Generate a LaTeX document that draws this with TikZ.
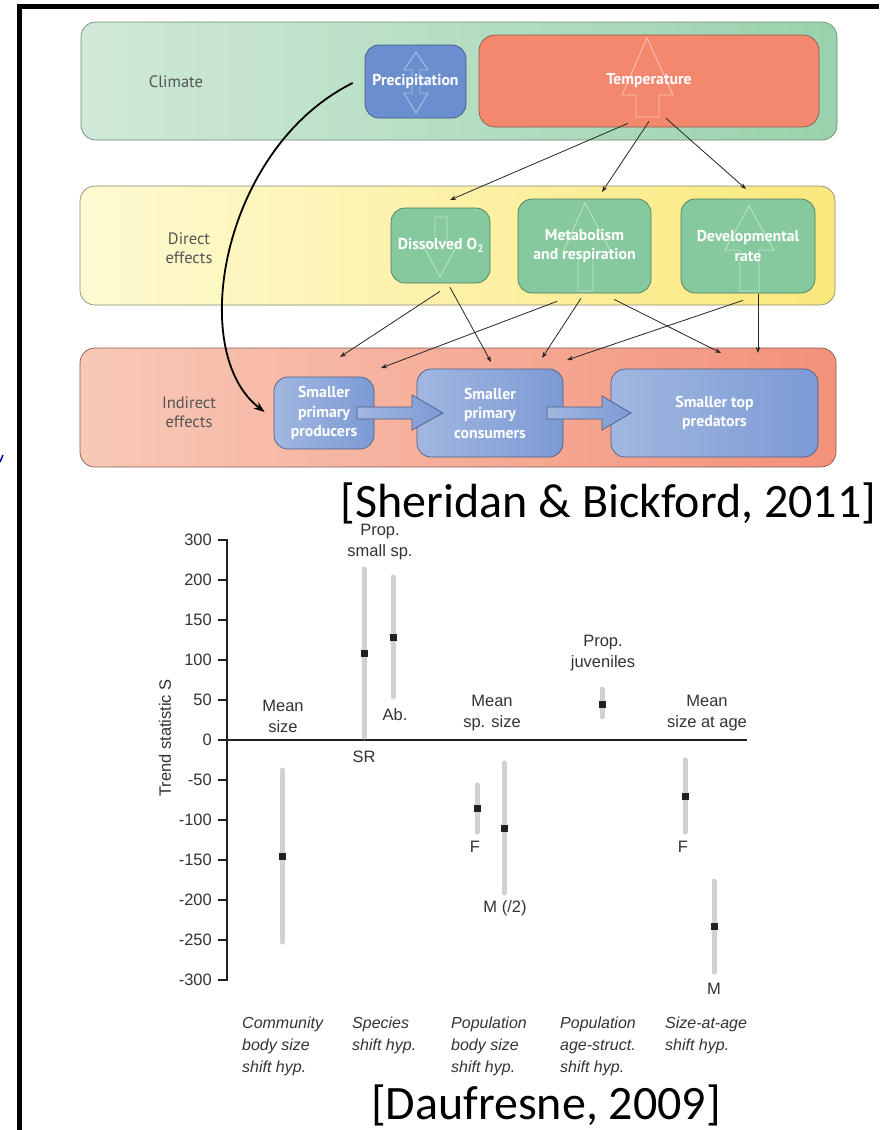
\documentclass[tikz,border=0pt]{standalone}
\usepackage{fontspec}
\setmainfont{Liberation Sans}
\newfontfamily\ptsans{PT Sans}
\newfontfamily\citefont{Carlito}
\usetikzlibrary{arrows.meta,calc}
\definecolor{climL}{HTML}{D0E9D7}
\definecolor{climR}{HTML}{9AD2AD}
\definecolor{climB}{HTML}{6A8A76}
\definecolor{precF}{HTML}{6A8ECE}
\definecolor{precB}{HTML}{3F5A8A}
\definecolor{tempF}{HTML}{F4886F}
\definecolor{tempB}{HTML}{8C5A4E}
\definecolor{dirL}{HTML}{FEFAD2}
\definecolor{dirR}{HTML}{FBE87C}
\definecolor{dirB}{HTML}{8A8A72}
\definecolor{grnF}{HTML}{86C99E}
\definecolor{grnB}{HTML}{4D7A5E}
\definecolor{indL}{HTML}{F8C9B7}
\definecolor{indR}{HTML}{F3917A}
\definecolor{indB}{HTML}{8A5A50}
\definecolor{bluL}{HTML}{A1B7E0}
\definecolor{bluR}{HTML}{7C9AD4}
\definecolor{bluB}{HTML}{4A5F86}
\definecolor{lblgray}{HTML}{555555}
\definecolor{chartink}{HTML}{333333}
\definecolor{axisink}{HTML}{231F20}
\definecolor{barg}{HTML}{CFD1D3}
\begin{document}
\begin{tikzpicture}[x=1pt,y=-1pt,
  band/.style={draw, line width=0.7pt, rounded corners=15pt, inner sep=0pt},
  boxtext/.style={text=white, align=center,
    font=\ptsans\bfseries\fontsize{15.8}{19.5}\selectfont},
  box/.style={draw, line width=0.7pt, rounded corners=14pt, inner sep=0pt, boxtext},
  greenbox/.style={box, fill=grnF, draw=grnB},
  bluebox/.style={box, left color=bluL, right color=bluR, draw=bluB},
  bandlabel/.style={text=lblgray, align=center, inner sep=0pt,
    font=\ptsans\fontsize{16.5}{19}\selectfont},
  ghost/.style={draw=white, draw opacity=0.5, line width=0.8pt, line join=miter},
  link/.style={draw=black!85, line width=0.8pt, -{Stealth[length=6pt,width=4.5pt]}},
  blockarrow/.style={draw=bluB, line width=0.7pt, left color=bluL, right color=bluR},
  axisline/.style={draw=axisink, line width=2.5pt},
  errbar/.style={draw=barg, line width=5pt, line cap=round},
  meanpt/.style={fill=axisink},
  chartlbl/.style={text=chartink, align=center, inner sep=0pt,
    font=\fontsize{16.5}{21}\selectfont},
  ticklbl/.style={text=chartink, anchor=east, inner sep=0pt,
    font=\fontsize{16.5}{20}\selectfont},
  catlbl/.style={text=chartink, align=left, anchor=north west, inner sep=0pt,
    font=\itshape\fontsize{16}{22}\selectfont},
  citelbl/.style={text=black, anchor=base, inner sep=0pt,
    font=\citefont\fontsize{48}{50}\selectfont}
]
\useasboundingbox (0,0) rectangle (879,1130);
\fill[white] (0,0) rectangle (879,1130);
% frame
\draw[black, line width=5pt] (19.5,1130) -- (19.5,6.5) -- (879,6.5);
\draw[blue!70!black, line width=1.5pt] (0,462) -- (3,455);

% bands
\node[band, left color=climL, right color=climR, draw=climB,
  minimum width=756pt, minimum height=118pt] (climate) at (459,81) {};
\node[band, left color=dirL, right color=dirR, draw=dirB,
  minimum width=755pt, minimum height=119pt] (direct) at (457.5,245.5) {};
\node[band, left color=indL, right color=indR, draw=indB,
  minimum width=756pt, minimum height=119pt] (indirect) at (458,407.5) {};

\node[bandlabel] (climlbl) at (176,82) {Climate};
\node[bandlabel] (dirlbl) at (189,248) {Direct\\effects};
\node[bandlabel] (indlbl) at (189,412) {Indirect\\effects};

% climate boxes
\node[box, fill=precF, draw=precB, minimum width=101pt, minimum height=73pt]
  (precip) at (415.5,81.5) {Precipitation};
\node[box, fill=tempF, draw=tempB, rounded corners=16pt,
  minimum width=340pt, minimum height=92pt] (temp) at (649,81) {Temperature};
\path[ghost] (416,52) -- (428,70) -- (420,70) -- (420,93) -- (428,93) -- (416,113)
  -- (404,93) -- (412,93) -- (412,70) -- (404,70) -- cycle;
\path[ghost] (647,38) -- (673,95) -- (659,95) -- (659,117) -- (636,117) -- (636,95)
  -- (622,95) -- cycle;

% direct boxes
\node[greenbox, minimum width=99pt, minimum height=75pt] (diss) at (440.5,245.5)
  {Dissolved O\raisebox{-0.35ex}{\fontsize{10.5}{11}\selectfont 2}};
\node[greenbox, minimum width=133pt, minimum height=94pt] (metab) at (584.5,246)
  {Metabolism\\and respiration};
\node[greenbox, minimum width=134pt, minimum height=94pt] (devel) at (748,246)
  {Developmental\\rate};
\path[ghost] (435,217) -- (447,217) -- (447,245) -- (457,245) -- (440,277) -- (423,245)
  -- (435,245) -- cycle;
\path[ghost] (585,203) -- (611,252) -- (593,252) -- (593,291) -- (578,291) -- (578,252)
  -- (563,252) -- cycle;
\path[ghost] (749,206) -- (774,250) -- (759,250) -- (759,291) -- (740,291) -- (740,250)
  -- (725,250) -- cycle;

% indirect boxes
\node[bluebox, minimum width=100pt, minimum height=72pt] (prod) at (324,413) {};
\node[bluebox, minimum width=146pt, minimum height=88pt] (cons) at (490,413) {};
\node[bluebox, minimum width=207pt, minimum height=88pt] (pred) at (714.5,413)
  {Smaller top\\predators};
\path[blockarrow] (357,407) -- (412,407) -- (412,395) -- (443,413) -- (412,430)
  -- (412,419) -- (357,419) -- cycle;
\path[blockarrow] (547,407) -- (602,407) -- (602,396) -- (631,413) -- (602,430)
  -- (602,419) -- (547,419) -- cycle;
\node[boxtext] (prodtxt) at (prod) {Smaller\\primary\\producers};
\node[boxtext] (constxt) at (cons) {Smaller\\primary\\consumers};

% endpoint coordinates
\coordinate (eDiss) at (450,200);
\coordinate (eMetab) at (602,192);
\coordinate (eDevel) at (746,189);
\coordinate (eP1) at (340,357);
\coordinate (eP2) at (381,368);
\coordinate (eC1) at (491,362);
\coordinate (eC2) at (542,358);
\coordinate (eC3) at (567,360);
\coordinate (eT1) at (721,353);
\coordinate (eT2) at (758,353);

% temperature -> direct
\draw[link] ($(temp.south)+(-21,-4)$) -- (eDiss);
\draw[link] ($(temp.south)+(0,-6)$) -- (eMetab);
\draw[link] ($(temp.south)+(17,-9)$) -- (eDevel);
% direct -> indirect
\draw[link] ($(diss.south)+(-0.5,8)$) -- (eP1);
\draw[link] ($(diss.south)+(9.5,4)$) -- (eC1);
\draw[link] ($(metab.south)+(-27.5,8)$) -- (eP2);
\draw[link] ($(metab.south)+(-3.5,5)$) -- (eC2);
\draw[link] ($(metab.south)+(29.5,6)$) -- (eT1);
\draw[link] ($(devel.south)+(-5,7)$) -- (eC3);
\draw[link] ($(devel.south)+(10,1)$) -- (eT2);
% precipitation -> producers
\draw[line width=1.8pt, -{Stealth[length=11pt,width=8pt]}]
  ($(precip.west)+(-12,1.5)$) .. controls (222,148) and (186,352) .. ($(prod.west)+(-9,-1)$);

% citations
\node[citelbl, text depth=0pt] (cite1) at (608.5,517) {[Sheridan \& Bickford, 2011]};
\node[citelbl] (cite2) at (546,1119) {[Daufresne, 2009]};

% chart axes
\draw[axisline] (227,539) -- (227,981);
\draw[axisline] (226,740) -- (747,740);
\foreach \v [count=\i from 0] in {300,200,150,100,50,0,-50,-100,-150,-200,-250,-300}{
  \draw[axisline] (218,540+40*\i) -- (227,540+40*\i);
  \node[ticklbl] at (212,540+40*\i) {\v};
}
\node[text=chartink, rotate=90, inner sep=0pt, font=\fontsize{16.5}{20}\selectfont]
  (ylab) at (165,738) {Trend statistic S};

% error bars
\foreach \x/\a/\b/\m in {282/770/942/856, 364/569/737/653, 393/577/697/637,
  477/785/832/808, 504/763/893/828, 602/689/717/704, 685/760/832/796, 714/881/972/926}{
  \draw[errbar] (\x,\a) -- (\x,\b);
  \fill[meanpt] (\x-3.5,\m-3.5) rectangle (\x+3.5,\m+3.5);
}

% chart labels
\node[chartlbl] (l1) at (283,716) {Mean\\size};
\node[chartlbl] (l2) at (380,542) {Prop.\\small sp.};
\node[chartlbl] (l3) at (395,715) {Ab.};
\node[chartlbl] (l4) at (364,757) {SR};
\node[chartlbl] (l5) at (492,713) {Mean\\sp. size};
\node[chartlbl] (l6) at (475,847) {F};
\node[chartlbl] (l7) at (505,908) {M (/2)};
\node[chartlbl] (l8) at (603,653) {Prop.\\juveniles};
\node[chartlbl] (l9) at (707,713) {Mean\\size at age};
\node[chartlbl] (l10) at (683,847) {F};
\node[chartlbl] (l11) at (714,989) {M};

% categories
\node[catlbl] (c1) at (242,1017) {Community\\body size\\shift hyp.};
\node[catlbl] (c2) at (352,1017) {Species\\shift hyp.};
\node[catlbl] (c3) at (451,1017) {Population\\body size\\shift hyp.};
\node[catlbl] (c4) at (560,1017) {Population\\age-struct.\\shift hyp.};
\node[catlbl] (c5) at (665,1017) {Size-at-age\\shift hyp.};
\end{tikzpicture}
\end{document}
